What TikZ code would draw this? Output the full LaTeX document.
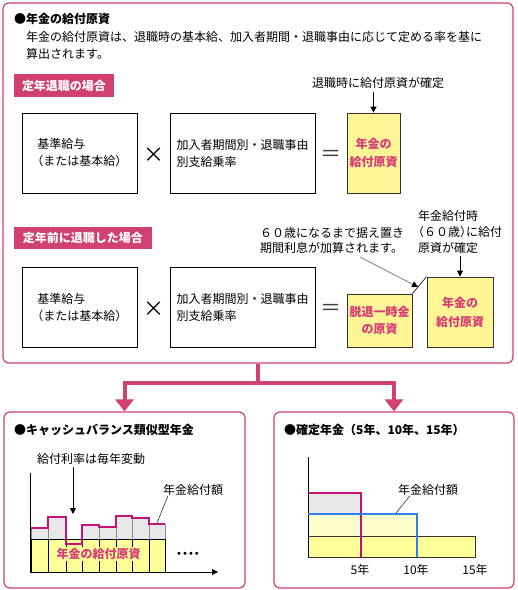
\documentclass[tikz,border=0pt]{standalone}
\usepackage{fontspec}
\setmainfont{Noto Sans CJK JP}
\newfontfamily\cjkh[RawFeature=+halt]{Noto Sans CJK JP}
\newfontfamily\djv{DejaVu Sans}
\usetikzlibrary{arrows.meta}
\definecolor{pinkb}{RGB}{208,64,112}
\definecolor{pinkt}{RGB}{214,60,118}
\definecolor{mag}{RGB}{196,18,120}
\definecolor{bluel}{RGB}{45,128,250}
\definecolor{yelbox}{RGB}{255,245,150}
\definecolor{yelc}{RGB}{255,255,153}
\definecolor{yell}{RGB}{255,255,204}
\definecolor{grayf}{RGB}{232,232,232}
\tikzset{
  panel/.style={draw=pinkb, line width=1.2pt, rounded corners=6pt, inner sep=0pt},
  tagbox/.style={fill=pinkb, text=white, font=\bfseries\fontsize{12}{14}\selectfont, inner sep=0pt},
  wbox/.style={draw=black, line width=0.8pt, minimum width=115pt, minimum height=80pt, align=left},
  wboxb/.style={wbox, minimum width=145pt},
  ybox/.style={draw=black!80, fill=yelbox, line width=0.8pt, text=pinkt, align=center,
    font=\bfseries\fontsize{12}{18}\selectfont},
  ttl/.style={anchor=west, font=\bfseries\fontsize{12}{17}\selectfont},
  opsym/.style={font=\fontsize{21}{21}\selectfont},
  arr/.style={draw=black, line width=0.8pt, -{Triangle[length=6pt,width=6pt]}},
  garr/.style={draw=black!50, line width=0.8pt, -{Triangle[length=6pt,width=6pt,color=black]}},
  pconn/.style={draw=pinkb, line width=4pt, -{Triangle[length=12pt,width=18pt]}},
  leader/.style={draw=black!80, line width=0.6pt},
}
\begin{document}
\begin{tikzpicture}[x=1pt,y=-1pt, every node/.style={inner sep=0pt, font=\fontsize{12}{17}\selectfont}]
\useasboundingbox (0,0) rectangle (518,590);
\fill[white] (0,0) rectangle (518,590);

% main panel
\node[panel, minimum width=510pt, minimum height=360pt] (main) at (258,183) {};
\node[ttl] (t1) at (14,19) {●年金の給付原資};
\node[anchor=west, align=left] (intro) at (26,45.5) {年金の給付原資は、退職時の基本給、加入者期間・退職事由に応じて定める率を基に\\算出されます。};

% row 1
\node[tagbox, minimum width=100pt, minimum height=23pt] (tag1) at (64,85.5) {定年退職の場合};
\node (k1) at (378,83) {退職時に給付原資が確定};
\node[wbox] (a1) at (79.5,153) {基準給与\\{\cjkh （}または基本給{\cjkh ）}};
\node[opsym] (x1) at (154,155.5) {×};
\node[wboxb] (b1) at (242.5,153) {加入者期間別・退職事由\\別支給乗率};
\node[opsym, text=black!75] (e1) at (331,155.5) {＝};
\node[ybox, minimum width=53pt, minimum height=80pt] (y1) at (373.5,153) {年金の\\給付原資};
\draw[arr, shorten <=3pt] (y1.north |- k1.south) -- (y1.north);

% row 2
\node[tagbox, minimum width=138pt, minimum height=22pt] (tag2) at (83,238) {定年前に退職した場合};
\node[anchor=west, align=left, font=\fontsize{12}{15.5}\selectfont] (n1) at (260,240.5) {６０歳になるまで据え置き\\期間利息が加算されます。};
\node[anchor=west, align=left, font=\fontsize{12}{16}\selectfont] (n2) at (418,232) {年金給付時\\{\cjkh （}６０歳{\cjkh ）}に給付\\原資が確定};
\node[wbox] (a2) at (79.5,307) {基準給与\\{\cjkh （}または基本給{\cjkh ）}};
\node[opsym] (x2) at (154,309.5) {×};
\node[wboxb] (b2) at (242.5,307) {加入者期間別・退職事由\\別支給乗率};
\node[opsym, text=black!75] (e2) at (331,309.5) {＝};
\node[ybox, minimum width=65pt, minimum height=53pt, font=\bfseries\fontsize{12}{17}\selectfont] (y2a) at (379.5,320.5) {脱退一時金\\の原資};
\node[ybox, minimum width=66pt, minimum height=70pt, font=\bfseries\fontsize{12}{19}\selectfont] (y2b) at (460,312) {年金の\\給付原資};
\draw[line width=0.6pt] (y2a.north east) -- (y2b.north west);
\coordinate (gs) at (360,257);
\coordinate (gt) at (418,287);
\draw[garr] (gs) -- (gt);
\draw[arr, shorten <=2pt] (y2b.north |- n2.south) -- (y2b.north);

% connectors
\coordinate (j) at (258,383);
\node[panel, minimum width=241pt, minimum height=176pt] (cbox) at (124.5,500) {};
\node[panel, minimum width=240pt, minimum height=176pt] (kbox) at (394,500) {};
\draw[pconn] (main.south) -- (j) -| (cbox.north);
\draw[pconn] (j) -| (kbox.north);

% left chart
\node[ttl] (t2) at (14,430) {●キャッシュバランス類似型年金};
\node[anchor=west] (rate) at (37,459) {給付利率は毎年変動};
\coordinate (ra) at (73,514);
\draw[arr, shorten <=2pt] (rate.south -| ra) -- (ra);
\foreach \xa/\xb/\yt in {31/48/528, 48/66/517, 82/99/525, 99/116/527, 116/132/516, 132/149/518, 149/165/524}
  \filldraw[fill=grayf, draw=black!45, line width=0.8pt] (\xa,\yt) rectangle (\xb,539);
\filldraw[fill=yelc, draw=black, line width=0.8pt] (31,539) rectangle (165,572);
\foreach \x in {48,66,82,99,116,132,149} \draw[line width=0.8pt] (\x,539) -- (\x,572);
\draw[mag, line width=2pt] (31,528) -- (48,528) -- (48,517) -- (66,517) -- (66,544) -- (82,544) -- (82,525) -- (99,525) -- (99,527) -- (116,527) -- (116,516) -- (132,516) -- (132,518) -- (149,518) -- (149,524) -- (165,524);
\node[text=pinkt, fill=yelc, inner xsep=0pt, inner ysep=1pt, font=\bfseries\fontsize{12}{14}\selectfont] (fund) at (98.5,554) {年金の給付原資};
\draw[line width=0.8pt, -{Triangle[length=6pt,width=6pt]}] (30,473) -- (30,572) -- (218,572);
\node[font=\djv\fontsize{10}{10}\selectfont] (dots) at (188,555) {••••};
\node[anchor=west] (amt1) at (163,490) {年金給付額};
\coordinate (l1) at (157,523);
\draw[leader] ([xshift=5pt]amt1.south west) -- (l1);

% right chart
\node[ttl] (t3) at (284,430) {●確定年金（5年、10年、15年）};
\fill[yell] (308,514) rectangle (417,536);
\fill[grayf] (308,493) rectangle (361,514);
\filldraw[fill=yelc, draw=black!80, line width=0.8pt] (308,536) rectangle (475,557);
\draw[line width=0.8pt] (308,457) -- (308,557);
\draw[mag, line width=2pt] (308,493) -- (361,493) -- (361,557);
\draw[bluel, line width=2pt] (308,514) -- (417,514) -- (417,557);
\node[anchor=west] (amt2) at (398,490) {年金給付額};
\coordinate (l2) at (396,513);
\draw[leader] ([xshift=12pt]amt2.south west) -- (l2);
\node (y5) at (360,570) {5年};
\node (y10) at (416,570) {10年};
\node (y15) at (475,570) {15年};
\end{tikzpicture}
\end{document}
